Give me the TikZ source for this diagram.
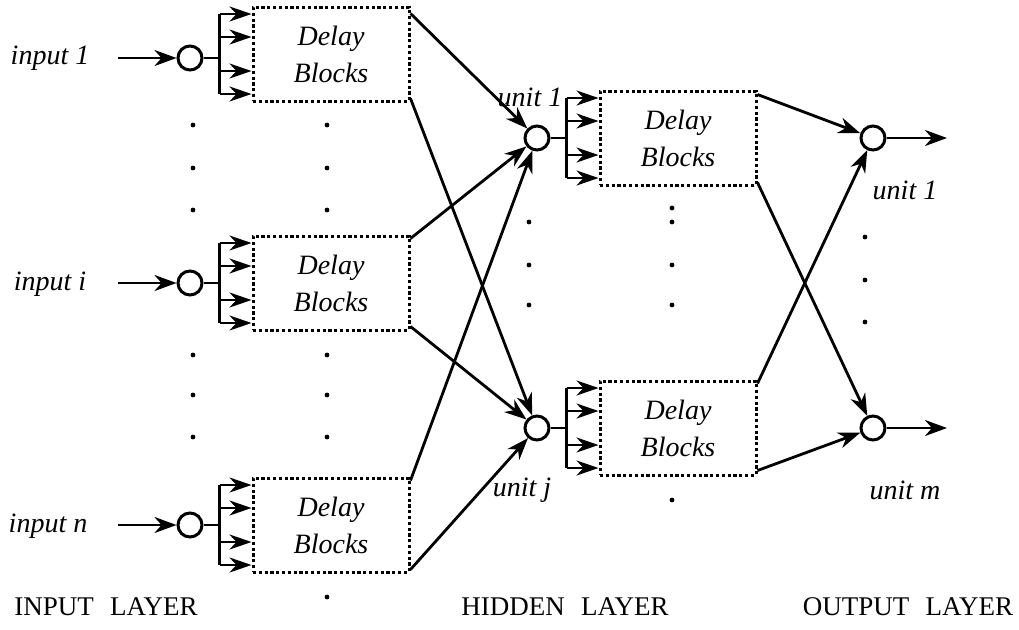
\documentclass[tikz,border=0pt]{standalone}
\usepackage{fontspec}
\setmainfont{Liberation Serif}
\usetikzlibrary{arrows.meta, positioning}

% fan of taps from a unit into its delay block
\newcommand{\taps}[2]{%
  \draw[line width=1.4pt] (#1.east) -- ([xshift=-16pt]#2.west |- #1.east);
  \draw[line width=1.4pt] ([xshift=-16pt,yshift=20pt]#2.west) -- ([xshift=-16pt,yshift=-20pt]#2.west);
  \foreach \o in {20,8.5,-8.5,-20}
    \draw[tap] ([xshift=-16pt,yshift=\o pt]#2.west) -- ([yshift=\o pt]#2.west);
}

\begin{document}
\begin{tikzpicture}[x=0.5pt,y=-0.5pt]

\tikzset{unit/.style = {shape=circle,draw,line width=1.5pt,minimum size=12pt,inner sep=0pt}}
\tikzset{delay/.style = {draw,line width=1.5pt,dash pattern=on 1.6pt off 1.3pt,minimum width=78pt,minimum height=47pt,align=center,font=\fontsize{14}{18.5}\selectfont\itshape}}
\tikzset{edge/.style = {line width=1.4pt,-{Stealth[length=11pt,width=8pt,inset=3.5pt]}}}
\tikzset{tap/.style = {line width=1.4pt,-{Stealth[length=11pt,width=7.5pt,inset=3.5pt]}}}
\tikzset{lbl/.style = {font=\fontsize{14}{17}\selectfont\itshape}}
\tikzset{layer/.style = {font=\fontsize{13.5}{16}\selectfont}}

\useasboundingbox (0,0) rectangle (1019,629);

% input layer
\node[lbl] (in1) at (50,58) {input 1};
\node[lbl] (ini) at (50,284) {input i};
\node[lbl] (inn) at (48,526) {input n};
\coordinate (s1) at (118,58);
\coordinate (si) at (118,283);
\coordinate (sn) at (118,525);
\node[unit] (c1) at (190,58) {};
\node[unit] (ci) at (190,283) {};
\node[unit] (cn) at (190,525) {};
\node[delay, right=24pt of c1, yshift=2pt] (b1) {Delay\\Blocks};
\node[delay, right=24pt of ci] (bi) {Delay\\Blocks};
\node[delay, right=24pt of cn] (bn) {Delay\\Blocks};
\draw[edge] (s1) -- (c1);
\draw[edge] (si) -- (ci);
\draw[edge] (sn) -- (cn);
\taps{c1}{b1}
\taps{ci}{bi}
\taps{cn}{bn}

% hidden layer
\node[unit] (h1) at (537,138) {};
\node[unit] (hj) at (537,428) {};
\node[lbl] (lh1) at (530,97) {unit 1};
\node[lbl] (lhj) at (522,490) {unit j};
\node[delay, right=24pt of h1] (d1) {Delay\\Blocks};
\node[delay, right=24pt of hj] (dj) {Delay\\Blocks};
\taps{h1}{d1}
\taps{hj}{dj}

% input -> hidden
\draw[edge] ([yshift=-4pt]b1.north east) -- (h1);
\draw[edge] ([yshift=2pt]b1.south east) -- (hj);
\draw[edge] ([yshift=-2pt]bi.north east) -- (h1);
\draw[edge] ([yshift=2.5pt]bi.south east) -- (hj);
\draw[edge] ([yshift=-2pt]bn.north east) -- (h1);
\draw[edge] ([yshift=2pt]bn.south east) -- (hj);

% output layer
\node[unit] (o1) at (873,138) {};
\node[unit] (om) at (873,428) {};
\node[lbl] (lo1) at (905,190) {unit 1};
\node[lbl] (lom) at (905,490) {unit m};
\coordinate (e1) at (947,138);
\coordinate (em) at (947,428);
\draw[edge] (o1) -- (e1);
\draw[edge] (om) -- (em);

% hidden -> output
\draw[edge] ([yshift=-2.5pt]d1.north east) -- (o1);
\draw[edge] ([yshift=2pt]d1.south east) -- (om);
\draw[edge] ([yshift=-2pt]dj.north east) -- (o1);
\draw[edge] ([yshift=3pt]dj.south east) -- (om);

% dots between the rows
\foreach \p in {(193,125),(327,125),(193,168),(327,168),(193,210),(327,210),
                (193,355),(327,355),(193,395),(327,395),(193,437),(327,437),(327,597),
                (529,222),(529,265),(529,305),(672,208),(672,222),(672,265),(672,305),(672,500),
                (865,237),(865,280),(865,322)}
  \fill \p circle (1.2pt);

% layer names
\node[layer] (ly1) at (106,607) {INPUT\hspace{0.6em}LAYER};
\node[layer] (ly2) at (565,607) {HIDDEN\hspace{0.6em}LAYER};
\node[layer] (ly3) at (908,607) {OUTPUT\hspace{0.6em}LAYER};
\end{tikzpicture}
\end{document}
